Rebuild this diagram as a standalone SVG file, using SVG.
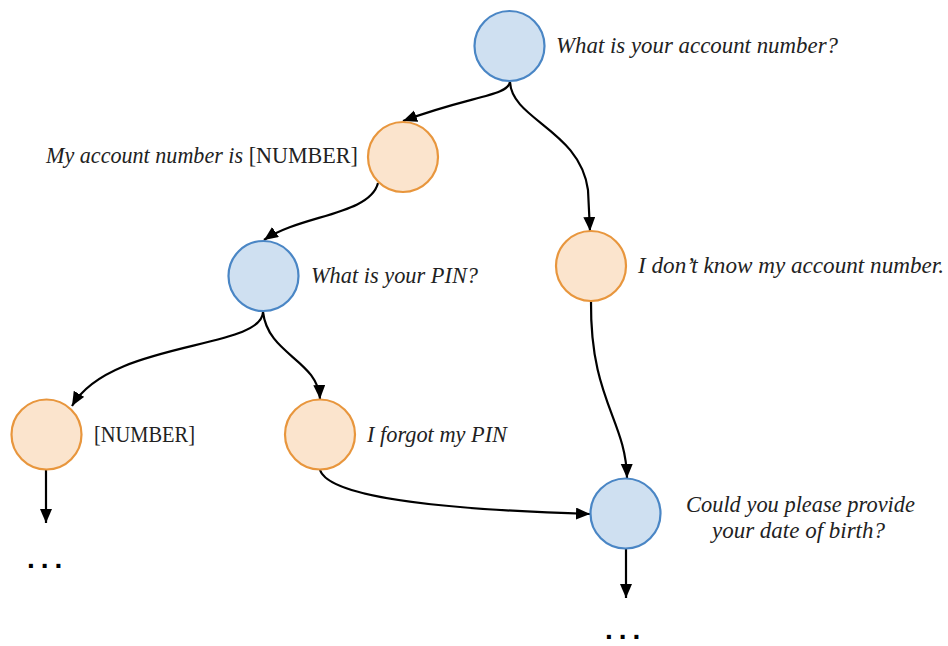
<svg xmlns="http://www.w3.org/2000/svg" width="948" height="646" viewBox="0 0 948 646">
<defs>
<style>
.q{fill:#cfe0f1;stroke:#4a86c5;stroke-width:2.2}
.a{fill:#fbe4cd;stroke:#e8963d;stroke-width:2.2}
.c{fill:none;stroke:#000;stroke-width:2.2}
.t{font-family:"Liberation Serif","Times New Roman",serif;font-size:23px;fill:#222}
.i{font-style:italic}
.d{font-family:"Liberation Sans",Arial,sans-serif;font-weight:bold;font-size:28px;fill:#000;letter-spacing:6px}
</style>
<marker id="ah" markerUnits="userSpaceOnUse" markerWidth="16" markerHeight="14" refX="14" refY="6" orient="auto">
<path d="M0,0 L14,6 L0,12 Z" fill="#000"/>
</marker>
</defs>
<rect width="948" height="646" fill="#fff"/>
<g id="connectors">
<path class="c" marker-end="url(#ah)" d="M510,82 C508,96 470,96 403,121"/>
<path class="c" marker-end="url(#ah)" d="M510,82 C512,120 580,130 588,190 L590,231"/>
<path class="c" marker-end="url(#ah)" d="M378,183 C370,215 300,215 264,240"/>
<path class="c" marker-end="url(#ah)" d="M263,312 C262,350 110,340 72,406"/>
<path class="c" marker-end="url(#ah)" d="M263,312 C268,355 318,360 320,399"/>
<path class="c" marker-end="url(#ah)" d="M591,301 C590,400 626,420 627,478"/>
<path class="c" marker-end="url(#ah)" d="M320,470 C330,500 460,510 590,514"/>
<path class="c" marker-end="url(#ah)" d="M46,470 L46,523"/>
<path class="c" marker-end="url(#ah)" d="M626,549 L626,598"/>
</g>
<g id="n1"><circle class="q" cx="509.5" cy="46" r="35"/><text class="t i" x="556" y="53" textLength="282" lengthAdjust="spacingAndGlyphs">What is your account number?</text></g>
<g id="n2"><circle class="a" cx="403" cy="157" r="35"/><text class="t" x="46" y="163" textLength="312" lengthAdjust="spacingAndGlyphs"><tspan class="i">My account number is </tspan>[NUMBER]</text></g>
<g id="n3"><circle class="q" cx="263.5" cy="276" r="35"/><text class="t i" x="311" y="283" textLength="167" lengthAdjust="spacingAndGlyphs">What is your PIN?</text></g>
<g id="n4"><circle class="a" cx="591" cy="266" r="35"/><text class="t i" x="638" y="273" textLength="306" lengthAdjust="spacingAndGlyphs">I don’t know my account number.</text></g>
<g id="n5"><circle class="a" cx="46.5" cy="434.5" r="35"/><text class="t" x="94" y="442" textLength="101" lengthAdjust="spacingAndGlyphs">[NUMBER]</text><text class="d" x="27" y="568">...</text></g>
<g id="n6"><circle class="a" cx="320" cy="434.5" r="35"/><text class="t i" x="367" y="442" textLength="140" lengthAdjust="spacingAndGlyphs">I forgot my PIN</text></g>
<g id="n7"><circle class="q" cx="625.5" cy="513.5" r="35"/><text class="t i" x="686" y="512" textLength="229" lengthAdjust="spacingAndGlyphs">Could you please provide</text><text class="t i" x="712" y="538" textLength="173" lengthAdjust="spacingAndGlyphs">your date of birth?</text><text class="d" x="605" y="639">...</text></g>
</svg>
